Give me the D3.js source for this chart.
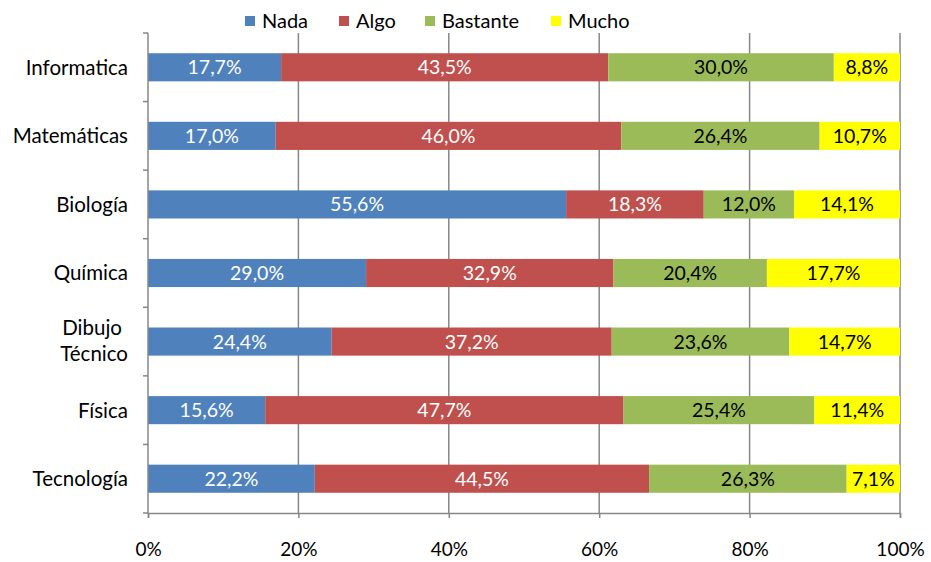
<!DOCTYPE html>
<html>
<head>
<meta charset="utf-8">
<script src="https://d3js.org/d3.v7.min.js"></script>
<style>
  body { margin: 0; background: #fff; }
  text { font-family: Lato, "Open Sans", sans-serif; }
</style>
</head>
<body>
<div id="chart"></div>
<script>
// categories and series
const categories = ["Informatica", "Matemáticas", "Biología", "Química", "Dibujo Técnico", "Física", "Tecnología"];
const seriesNames = ["Nada", "Algo", "Bastante", "Mucho"];
const nada     = [17.7, 17.0, 55.6, 29.0, 24.4, 15.6, 22.2];
const algo     = [43.5, 46.0, 18.3, 32.9, 37.2, 47.7, 44.5];
const bastante = [30.0, 26.4, 12.0, 20.4, 23.6, 25.4, 26.3];
const mucho    = [8.8, 10.7, 14.1, 17.7, 14.7, 11.4, 7.1];
const xTicks = [0, 0.2, 0.4, 0.6, 0.8, 1];

const colors = ["#4F81BD", "#C0504D", "#9BBB59", "#FFFF00"];
const labelColors = ["#fff", "#fff", "#000", "#000"];

const W = 931, H = 562;
const margin = { top: 33, right: 31, bottom: 49, left: 148 };
const width = W - margin.left - margin.right, height = H - margin.top - margin.bottom;

const svg = d3.select("#chart").append("svg")
  .attr("width", W).attr("height", H);
const g = svg.append("g").attr("transform", `translate(${margin.left},${margin.top})`);

// build rows: each row keeps raw values, stacked as a share of its own total
const series = [nada, algo, bastante, mucho];
const rows = categories.map((c, i) => {
  const r = { cat: c };
  seriesNames.forEach((s, j) => r[s] = series[j][i]);
  return r;
});
const stacked = d3.stack().keys(seriesNames).offset(d3.stackOffsetExpand)(rows);

const x = d3.scaleLinear().domain([0, 1]).range([0, width]);
const y = d3.scaleBand().domain(categories).range([0, height]).paddingInner(0.59).paddingOuter(0.295);
const band = d3.scaleBand().domain(categories).range([0, height]);

// gridlines
g.append("g").selectAll("line").data(xTicks.slice(1)).enter().append("line")
  .attr("x1", d => x(d)).attr("x2", d => x(d))
  .attr("y1", 0).attr("y2", height)
  .attr("stroke", "#878787").attr("stroke-width", 1.5);

// bars
const layer = g.append("g").selectAll("g").data(stacked).enter().append("g")
  .attr("fill", (d, i) => colors[i]);
layer.selectAll("rect").data(d => d).enter().append("rect")
  .attr("x", d => x(d[0]))
  .attr("width", d => x(d[1]) - x(d[0]))
  .attr("y", d => y(d.data.cat))
  .attr("height", y.bandwidth());

// value labels
stacked.forEach((s, i) => {
  g.append("g").selectAll("text").data(s).enter().append("text")
    .attr("x", d => (x(d[0]) + x(d[1])) / 2)
    .attr("y", d => y(d.data.cat) + y.bandwidth() / 2)
    .attr("dy", "0.36em")
    .attr("text-anchor", "middle")
    .attr("fill", labelColors[i])
    .style("font-size", "19.5px")
    .text(d => d.data[s.key].toFixed(1).replace(".", ",") + "%");
});

// left axis with ticks at the band boundaries
const axisCol = "#878787";
g.append("line").attr("x1", 0).attr("x2", 0).attr("y1", 0).attr("y2", height)
  .attr("stroke", axisCol).attr("stroke-width", 1.5);
const bounds = categories.map(c => band(c)).concat([height]);
g.append("g").selectAll("line").data(bounds).enter().append("line")
  .attr("x1", -5).attr("x2", 0).attr("y1", d => d).attr("y2", d => d)
  .attr("stroke", axisCol).attr("stroke-width", 1.5);

// category labels
categories.forEach(c => {
  const t = g.append("text")
    .attr("x", -20)
    .attr("y", y(c) + y.bandwidth() / 2)
    .attr("text-anchor", "end")
    .attr("fill", "#000")
    .style("font-size", "20.5px");
  const parts = c.split(" ");
  if (parts.length > 1) {
    t.append("tspan").attr("x", -20 - 6).attr("dy", "-0.3em").text(parts[0]);
    t.append("tspan").attr("x", -20).attr("dy", "1.25em").text(parts[1]);
  } else {
    t.attr("dy", "0.36em").text(c);
  }
});

// bottom axis
const xAxis = g.append("g").attr("transform", `translate(0,${height})`)
  .call(d3.axisBottom(x).tickValues(xTicks).tickSize(5).tickPadding(25)
    .tickFormat(d3.format(".0%")));
xAxis.select(".domain").attr("stroke", axisCol).attr("stroke-width", 1.5);
xAxis.selectAll(".tick line").attr("stroke", axisCol).attr("stroke-width", 1.5);
xAxis.selectAll(".tick text").attr("fill", "#000")
  .style("font-size", "19px").style("font-family", "Lato, 'Open Sans', sans-serif");

// legend
const legendX = [245, 339, 425, 551];
const legend = svg.append("g");
seriesNames.forEach((s, i) => {
  legend.append("rect").attr("x", legendX[i]).attr("y", 16)
    .attr("width", 10).attr("height", 10).attr("fill", colors[i]);
  legend.append("text").attr("x", legendX[i] + 17).attr("y", 21).attr("dy", "0.36em")
    .style("font-size", "20px").attr("fill", "#000").text(s);
});
</script>
</body>
</html>
